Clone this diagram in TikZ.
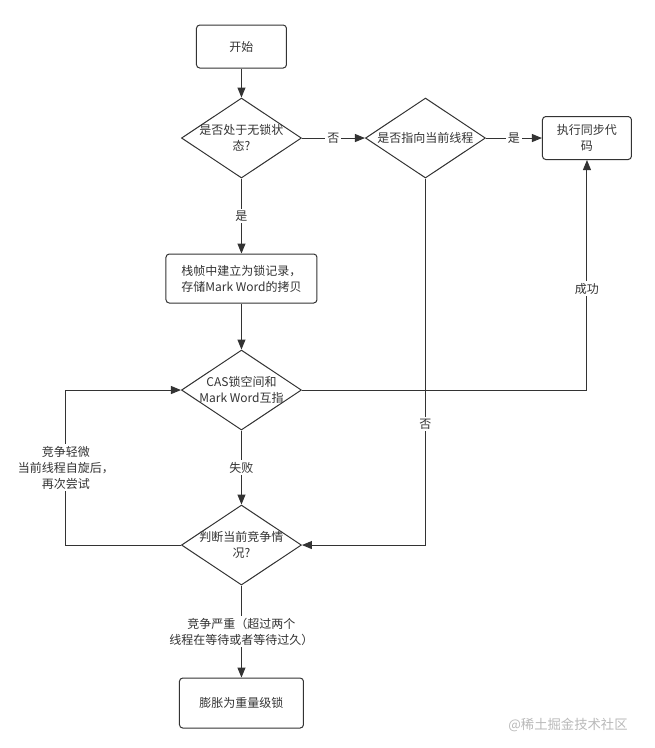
\documentclass[tikz,border=0pt]{standalone}
\usepackage{fontspec}
\setmainfont{Noto Sans CJK SC}
\usetikzlibrary{positioning,shapes.geometric,arrows.meta}
\definecolor{flowcolor}{HTML}{333333}

\begin{document}
\begin{tikzpicture}[>={Triangle[length=7.5pt,width=6pt]},
    every node/.style={font=\fontsize{9pt}{12pt}\selectfont, text=flowcolor},
    stepbox/.style={draw=flowcolor, rounded corners=2.5pt, line width=0.75pt, align=center, inner sep=0pt},
    decision/.style={diamond, draw=flowcolor, line width=0.75pt, minimum width=90pt, minimum height=60pt, inner sep=0pt},
    flowarrow/.style={->, draw=flowcolor, line width=0.75pt},
    flowlabel/.style={fill=white, inner sep=1.5pt, align=center}]
  \useasboundingbox (-181.1pt,34.9pt) rectangle (309.4pt,-526.1pt);
  \node (start)    [stepbox, minimum width=67.5pt, minimum height=32.25pt] at (0,0) {开始};
  \node (unlocked) [decision, below=21.75pt of start, label={[align=center]center:是否处于无锁状\\态?}] {};
  \node (owner)    [decision, right=47.25pt of unlocked, label=center:是否指向当前线程] {};
  \node (run)      [stepbox, minimum width=66.75pt, minimum height=32.25pt, right=42pt of owner] {执行同步代\\码};
  \node (record)   [stepbox, minimum width=113.25pt, minimum height=36.75pt, below=56.25pt of unlocked] {栈帧中建立为锁记录，\\存储Mark Word的拷贝};
  \node (cas)      [decision, below=34.5pt of record, label={[align=center]center:CAS锁空间和\\Mark Word互指}] {};
  \node (judge)    [decision, below=55.5pt of cas, label={[align=center]center:判断当前竞争情\\况?}] {};
  \node (heavy)    [stepbox, minimum width=93pt, minimum height=37.5pt, below=69pt of judge] {膨胀为重量级锁};
  \coordinate (retry) at ([xshift=-86.25pt]judge.west);
  \node (mark) [text=gray!55, font=\fontsize{10pt}{12pt}\selectfont] at ([xshift=198pt,yshift=-16.5pt]heavy.east) {@稀土掘金技术社区};

  \draw[flowarrow] (start) -- (unlocked);
  \draw[flowarrow] (unlocked) -- node[flowlabel] {否} (owner);
  \draw[flowarrow] (owner) -- node[flowlabel] {是} (run);
  \draw[flowarrow] (unlocked) -- node[flowlabel] {是} (record);
  \draw[flowarrow] (record) -- (cas);
  \draw[flowarrow] (cas) -- node[flowlabel] {失败} (judge);
  \draw[flowarrow] (cas) -| node[flowlabel, pos=0.72] {成功} (run);
  \draw[flowarrow] (owner) |- node[flowlabel, pos=0.335] {否} (judge);
  \draw[flowarrow] (judge.west) -- (retry) |- node[flowlabel, pos=0.25] {竞争轻微\\当前线程自旋后，\\再次尝试} (cas.west);
  \draw[flowarrow] (judge) -- node[flowlabel] {竞争严重（超过两个\\线程在等待或者等待过久）} (heavy);
\end{tikzpicture}
\end{document}
